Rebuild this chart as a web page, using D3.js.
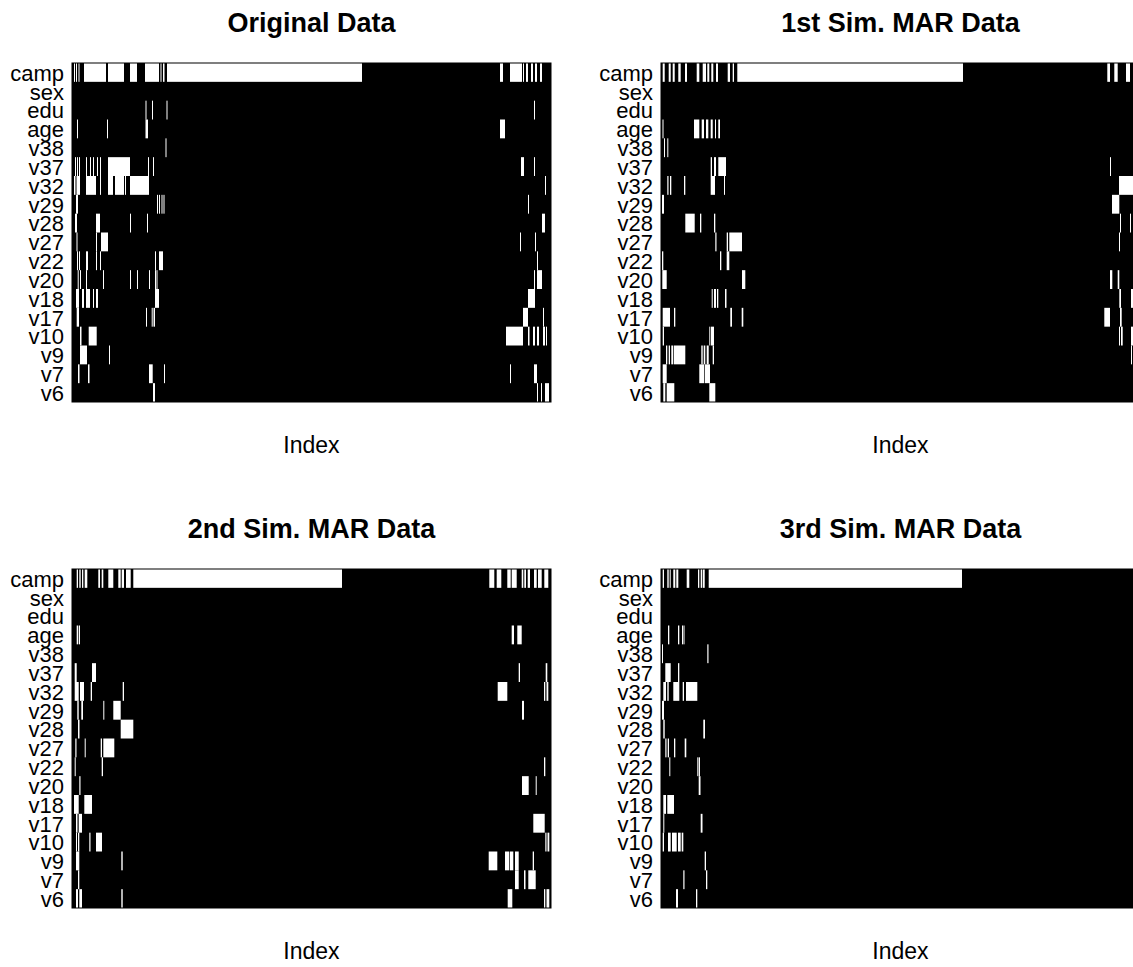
<!DOCTYPE html>
<html>
<head>
<meta charset="utf-8">
<style>
  body { margin: 0; background: #fff; }
  svg { display: block; font-family: 'Liberation Sans', Arial, sans-serif; }
  .title { font-size: 27px; font-weight: bold; }
  .x-label { font-size: 23px; }
</style>
</head>
<body>
<svg id="chart"></svg>
<script src="https://cdn.jsdelivr.net/npm/d3@7/dist/d3.min.js"></script>
<script>
'use strict';

// row order, top to bottom
var variables = ['camp', 'sex', 'edu', 'age', 'v38', 'v37', 'v32', 'v29', 'v28',
  'v27', 'v22', 'v20', 'v18', 'v17', 'v10', 'v9', 'v7', 'v6'];

var panelTitles = ['Original Data', '1st Sim. MAR Data', '2nd Sim. MAR Data', '3rd Sim. MAR Data'];

var indexRange = [0, 479];

// missing stretches [from, to] on the index, one list per variable (same order as above)
var originalMissing = [
  [[2, 3], [4, 5], [6.5, 7.5], [12, 34], [36, 52], [58, 65], [73, 87], [88.5, 89.5], [91, 92.5], [95, 290],
    [428, 431], [438, 450], [451, 452], [454, 456], [459, 461], [463, 465], [468, 470]],
  [],
  [[73.5, 74.5], [80, 81], [94.5, 95.5], [462, 463]],
  [[5, 6], [35, 36], [73.5, 76], [428, 433]],
  [[93.5, 94.5]],
  [[3, 4], [5, 6], [7, 7.7], [14, 15], [18, 19], [21, 22], [25, 26], [28, 29], [36, 58], [76, 77], [81, 82],
    [449, 452], [462, 463]],
  [[2, 3.5], [4.5, 8], [14, 24], [28, 29], [36, 41], [43, 52], [53, 54], [58, 77], [473, 474]],
  [[4, 6], [85, 86], [87, 88], [89.5, 90.5], [91.5, 92.5], [456, 457]],
  [[3, 5], [24, 28], [58, 59], [75, 76], [470, 473]],
  [[4.5, 5.5], [24, 25], [29, 36], [448, 449], [463, 464]],
  [[5, 6], [7, 8], [14, 16], [24, 25], [28, 29], [83, 84], [87, 91], [465, 466]],
  [[5.7, 6.7], [8, 9], [14, 15], [31, 32], [58, 59], [65, 66], [77, 78], [83, 84], [84.5, 85.5], [462, 463], [465, 470]],
  [[4, 7], [10, 12], [14, 18], [21, 22], [24, 26], [83, 87], [456, 463]],
  [[4.7, 7], [74, 75], [79.7, 80.7], [81.5, 83], [451, 456], [471, 472]],
  [[8, 9.5], [16.7, 24.7], [434, 451], [456, 457.5], [461, 463], [465, 467], [471, 473], [474, 475]],
  [[8, 15], [37, 38]],
  [[6, 7.5], [16, 17.5], [77, 80.7], [92, 93], [438, 439], [462, 465]],
  [[81, 83], [465, 466], [469, 470], [473, 477]]
];

var sim1Missing = [
  [[1.7, 3.7], [7.7, 9.7], [11.7, 13.7], [17.3, 19.7], [24, 26], [35.7, 38.3], [41.7, 45], [46.3, 48.3],
    [50.3, 52.3], [55, 57], [66.7, 69], [71.7, 73], [76.3, 302], [446.3, 449], [453.3, 456.7], [465, 469]],
  [],
  [],
  [[1.5, 2.5], [33, 38.3], [40.7, 43], [45, 47.3], [49.7, 51.7], [54, 55], [57.3, 59]],
  [[3, 4], [6.3, 7.3]],
  [[49.7, 51], [53, 55], [57.3, 65], [449, 450]],
  [[6.3, 7.5], [9, 10.3], [23, 24.3], [49.7, 54], [63, 64], [458, 475]],
  [[1, 3], [451, 458.3]],
  [[24.3, 33.7], [39, 40.3], [53, 54.3], [459, 460], [469, 470]],
  [[54.3, 55.5], [65.7, 67], [68.3, 81], [458, 459]],
  [[1, 2.3], [59, 60.3], [65.7, 68.3]],
  [[1.3, 5.7], [81, 84.3], [449, 451.3], [456.7, 458.3]],
  [[50.7, 51.7], [53, 55], [56, 57.3], [64, 65.5], [458.3, 460], [470, 475]],
  [[1.7, 9], [13, 14.3], [69.3, 71], [80.7, 82.3], [443.3, 449], [459, 460.7]],
  [[1.7, 3], [48.3, 49.3], [50, 53], [458, 459], [460, 461.7], [470, 475]],
  [[5, 6.3], [7.7, 9], [10.3, 12.3], [13, 24.3], [40.3, 41.7], [42.7, 44.3], [45.7, 47.7], [51.7, 53], [470, 471]],
  [[1.7, 5.7], [38.3, 43], [43.7, 49]],
  [[2.3, 4.3], [5.7, 13.3], [48.3, 54.3]]
];

var sim2Missing = [
  [[4.7, 6], [7.3, 8.7], [10, 11.3], [12.7, 15.3], [26.3, 28], [29.7, 31.3], [36.3, 41.3], [46.3, 48.7],
    [49.7, 52], [54, 58.7], [61.3, 270], [417.3, 422.3], [424.7, 429.3], [435.3, 438.7], [439.7, 444.7],
    [449.7, 451.3], [452.3, 454], [455.7, 458], [462, 464.7], [466, 469.7], [472.3, 476.3]],
  [],
  [],
  [[4.7, 6], [6.7, 8], [439.7, 442], [445.3, 449.7]],
  [],
  [[2.7, 4.7], [20, 24], [446.7, 448], [473.7, 475.3]],
  [[2.7, 6.7], [8, 12], [18.7, 20], [50.7, 52], [425.7, 435.3], [472, 473.3], [474.5, 476.3]],
  [[5.3, 6.7], [9.3, 11], [31.3, 32.3], [41.3, 48.7], [450, 452]],
  [[6, 7.5], [48.7, 61.3]],
  [[3.3, 4.5], [12.7, 13.7], [28.7, 30], [31.3, 42.3]],
  [[2.7, 3.7], [29.7, 31], [472, 473.3]],
  [[7.3, 8.5], [450, 456.7], [463.7, 464.7]],
  [[2, 6.7], [12.3, 20]],
  [[4, 5.5], [6.7, 10], [461.3, 472.7]],
  [[4, 5], [6, 7.3], [17.3, 18.5], [24, 30], [473.3, 474.5], [475.5, 477.3]],
  [[4, 7.3], [49.3, 50.7], [416.7, 425.3], [433, 437.3], [438, 441.3], [443, 446.7], [460.7, 462]],
  [[6, 7.3], [443, 446.7], [452, 453.5], [456.3, 463.7]],
  [[4, 6], [7.3, 10], [49.3, 50.7], [435.7, 440.3], [472, 473.3], [474.5, 477.3]]
];

var sim3Missing = [
  [[1.7, 3], [6.3, 7.7], [8.7, 9.7], [12.3, 14.3], [15.3, 17.3], [25.7, 28.3], [37, 38.3], [39.7, 41],
    [41.7, 43.7], [47.7, 301]],
  [],
  [],
  [[7, 8.3], [17, 18.3], [21, 21.8], [22.5, 23.3]],
  [[1, 2], [46.3, 47.5]],
  [[4.3, 9.7], [17, 18.3]],
  [[2.3, 5], [6.3, 7.7], [12.3, 18.3], [21.7, 23], [25, 36.3]],
  [[1, 3]],
  [[2.3, 3.7], [42.3, 44]],
  [[4.3, 5.5], [6.7, 8], [13, 14.3], [23.7, 25.3]],
  [[8.3, 9.3], [36.3, 37.5], [38, 39]],
  [[37.7, 39.5]],
  [[2.3, 5], [6.3, 13]],
  [[2.3, 3.3], [39.7, 41.5]],
  [[1.7, 3], [7, 9.7], [11, 15.7], [17, 19.7], [20.7, 22.3]],
  [[43.7, 45]],
  [[22.3, 23.5], [45, 46.3]],
  [[15, 17], [35, 36.3]]
];

var panelData = [originalMissing, sim1Missing, sim2Missing, sim3Missing];

var SVG_WIDTH = 1133,
  SVG_HEIGHT = 967,
  PLOT = { width: 479, height: 339 },
  PANEL_ORIGIN = [
    { x: 72, y: 63 },
    { x: 661, y: 63 },
    { x: 72, y: 569 },
    { x: 661, y: 569 }
  ];

var svg = d3.select('#chart')
  .attr('width', SVG_WIDTH)
  .attr('height', SVG_HEIGHT);

svg.append('rect')
  .attr('width', SVG_WIDTH)
  .attr('height', SVG_HEIGHT)
  .attr('fill', '#fff');

var xScale = d3.scaleLinear()
  .domain(indexRange)
  .range([0, PLOT.width]);

var yScale = d3.scaleBand()
  .domain(variables)
  .range([0, PLOT.height])
  .padding(0);

panelData.forEach(function(missing, p) {
  drawPanel(missing, panelTitles[p], PANEL_ORIGIN[p]);
});


function drawPanel(missing, title, origin) {
  var g = svg.append('g')
    .attr('transform', 'translate(' + origin.x + ',' + origin.y + ')');

  // observed = black background
  g.append('rect')
    .attr('width', PLOT.width)
    .attr('height', PLOT.height)
    .attr('fill', '#000');

  // missing = white stretches
  var rows = g.selectAll('.row')
    .data(variables.map(function(v, i) { return { name: v, spans: missing[i] }; }))
    .enter()
    .append('g')
    .attr('class', 'row')
    .attr('transform', function(d) { return 'translate(0,' + yScale(d.name) + ')'; });

  rows.selectAll('rect')
    .data(function(d) { return d.spans; })
    .enter()
    .append('rect')
    .attr('x', function(d) { return xScale(d[0]); })
    .attr('width', function(d) { return Math.max(1, xScale(d[1]) - xScale(d[0])); })
    .attr('height', yScale.bandwidth())
    .attr('fill', '#fff');

  g.append('rect')
    .attr('width', PLOT.width)
    .attr('height', PLOT.height)
    .attr('fill', 'none')
    .attr('stroke', '#000')
    .attr('stroke-width', 1);

  // variable names
  var yAxis = d3.axisLeft(yScale)
    .tickSize(0)
    .tickPadding(8);

  var axisG = g.append('g')
    .call(yAxis);

  axisG.select('.domain').remove();
  axisG.selectAll('text')
    .attr('font-family', "'Liberation Sans', Arial, sans-serif")
    .attr('font-size', 22)
    .attr('fill', '#000')
    .attr('dy', '0.38em');

  g.append('text')
    .attr('class', 'title')
    .attr('x', PLOT.width / 2)
    .attr('y', -31)
    .attr('text-anchor', 'middle')
    .text(title);

  g.append('text')
    .attr('class', 'x-label')
    .attr('x', PLOT.width / 2)
    .attr('y', PLOT.height + 51)
    .attr('text-anchor', 'middle')
    .text('Index');
}
</script>
</body>
</html>
